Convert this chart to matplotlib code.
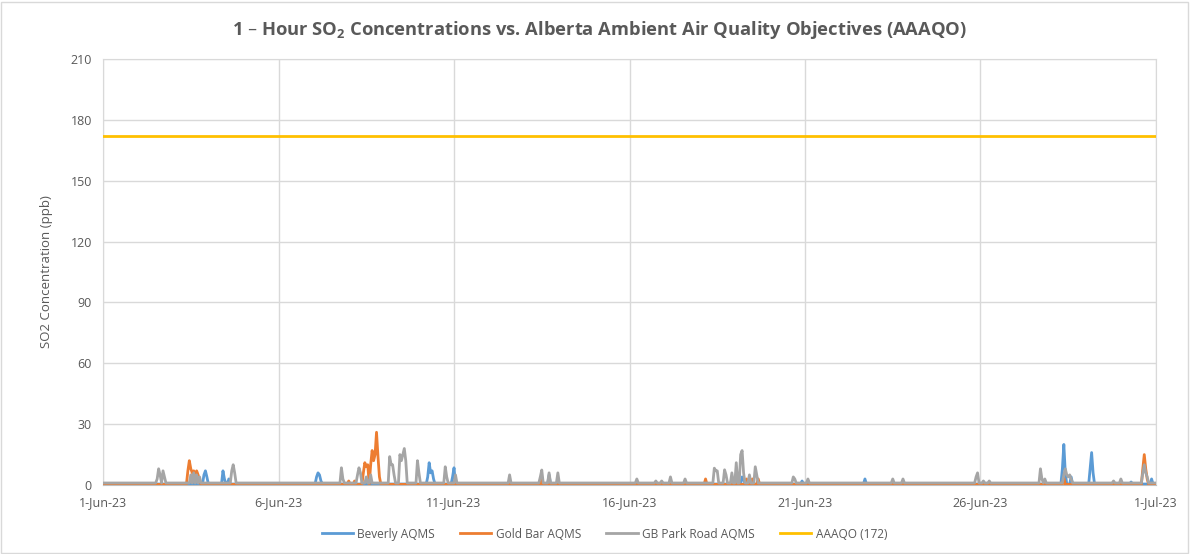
import numpy as np
import matplotlib
matplotlib.use("Agg")
import matplotlib.pyplot as plt
from matplotlib.patches import Rectangle

# ---- data (hour index from 1-Jun-23 00:00, ppb) ----
n_hours = 721
tick_labels = ["1-Jun-23", "6-Jun-23", "11-Jun-23", "16-Jun-23", "21-Jun-23", "26-Jun-23", "1-Jul-23"]
y_ticks = [0, 30, 60, 90, 120, 150, 180, 210]
aaaqo_value = 172

beverly_base = 0.5
beverly_hours = [69, 70, 71, 82, 83, 86, 146, 147, 148, 149, 222, 223, 224, 225, 226, 239, 240, 305,
                 437, 438, 478, 521, 547, 656, 657, 658, 662, 675, 676, 677, 703, 717]
beverly_vals = [5, 7, 4, 7, 3, 3, 4, 6, 5, 2, 4, 11, 6, 7, 3, 4, 8.5, 5,
                4, 3, 2, 3, 2, 8, 20, 6, 4, 8, 16, 6, 1.5, 3]

goldbar_base = 0.3
goldbar_hours = [58, 59, 60, 61, 62, 63, 64, 65, 66, 168, 172, 178, 179, 180, 181, 183, 184, 185,
                 186, 187, 188, 189, 300, 412, 434, 440, 444, 448, 657, 711, 712, 713, 714]
goldbar_vals = [7, 12, 8, 6, 7, 5, 7, 5, 2, 2, 2, 6, 11, 9, 10, 10, 17, 12,
                15, 26, 14, 4, 2.3, 3, 3, 3, 3, 3, 3.5, 8, 15, 8, 3]

gbpark_base = 1.0
gbpark_hours = [37, 38, 39, 41, 42, 60, 62, 64, 66, 88, 89, 90, 163, 164, 174, 175, 176, 180, 183,
                196, 197, 198, 199, 203, 204, 205, 206, 207, 215, 216, 234, 235, 241, 278, 299, 300,
                305, 311, 365, 378, 382, 388, 398, 418, 419, 420, 425, 426, 430, 433, 436, 437, 438,
                442, 446, 447, 472, 473, 482, 540, 547, 597, 598, 602, 606, 641, 642, 644,
                657, 658, 659, 660, 661, 662, 691, 696, 711, 712, 713, 714]
gbpark_vals = [3, 8, 5, 7, 4, 5, 6, 5, 4, 7, 10, 6, 8.5, 3, 5, 8.5, 6, 4, 5,
               14, 10, 10, 5, 15, 12, 15, 18, 12, 12, 6, 9, 4, 5, 5, 4, 7.4,
               6, 6, 3, 2, 2, 4, 3, 8.3, 7, 7, 7.5, 5, 6, 11, 15, 17, 6,
               5, 9, 5, 4, 3, 3, 3, 3, 4, 6, 2, 2, 8, 3, 3,
               5, 8, 5, 4, 5, 3, 2, 3, 6, 10, 6, 4]

series_names = ["Beverly AQMS", "Gold Bar AQMS", "GB Park Road AQMS", "AAAQO (172)"]
colors = ["#5B9BD5", "#ED7D31", "#A5A5A5", "#FFC000"]

def build(base, hours, vals):
    s = np.full(n_hours, base, dtype=float)
    s[np.array(hours)] = vals
    return s

beverly = build(beverly_base, beverly_hours, beverly_vals)
goldbar = build(goldbar_base, goldbar_hours, goldbar_vals)
gbpark = build(gbpark_base, gbpark_hours, gbpark_vals)
t = np.arange(n_hours) / 24.0

plt.rcParams['font.family'] = ['Open Sans', 'DejaVu Sans']
fig = plt.figure(figsize=(11.9, 5.54), dpi=100)
ax = fig.add_axes([0.0866, 0.1245, 0.8848, 0.769])

txt = "#595959"
ax.plot(t, beverly, color=colors[0], lw=2.0, label=series_names[0], zorder=3)
ax.plot(t, goldbar, color=colors[1], lw=2.0, label=series_names[1], zorder=4)
ax.plot(t, gbpark, color=colors[2], lw=2.0, label=series_names[2], zorder=5)
ax.plot([0, 30], [aaaqo_value, aaaqo_value], color=colors[3], lw=2.0, label=series_names[3], zorder=6)

ax.set_xlim(0, 30)
ax.set_ylim(0, 210)
ax.set_xticks(np.arange(0, 31, 5))
ax.set_xticklabels(tick_labels)
ax.set_yticks(y_ticks)
ax.grid(True, color="#D9D9D9", lw=1.0)
ax.set_axisbelow(True)
for sp in ax.spines.values():
    sp.set_color("#D9D9D9")
ax.spines['bottom'].set_color("#BFBFBF")
ax.tick_params(axis='both', length=0, labelsize=9, colors=txt, pad=8)
ax.set_ylabel("SO2 Concentration (ppb)", fontsize=9.5, color=txt, labelpad=13)

fig.text(0.504, 0.945, "1 \u2013 Hour SO$_\\mathregular{2}$ Concentrations vs. Alberta Ambient Air Quality Objectives (AAAQO)",
         ha='center', va='center', fontsize=13.2, fontweight='bold', color=txt)

leg = fig.legend(loc='center', bbox_to_anchor=(0.508, 0.036), ncol=4, frameon=False,
                 fontsize=8.6, labelcolor=txt, handlelength=2.6, columnspacing=2.1, handletextpad=0.4)

fig.patches.append(Rectangle((0.001, 0.002), 0.997, 0.995, transform=fig.transFigure,
                             fill=False, edgecolor="#D9D9D9", lw=1.0))

fig.savefig("out.png", dpi=100, facecolor="white")
